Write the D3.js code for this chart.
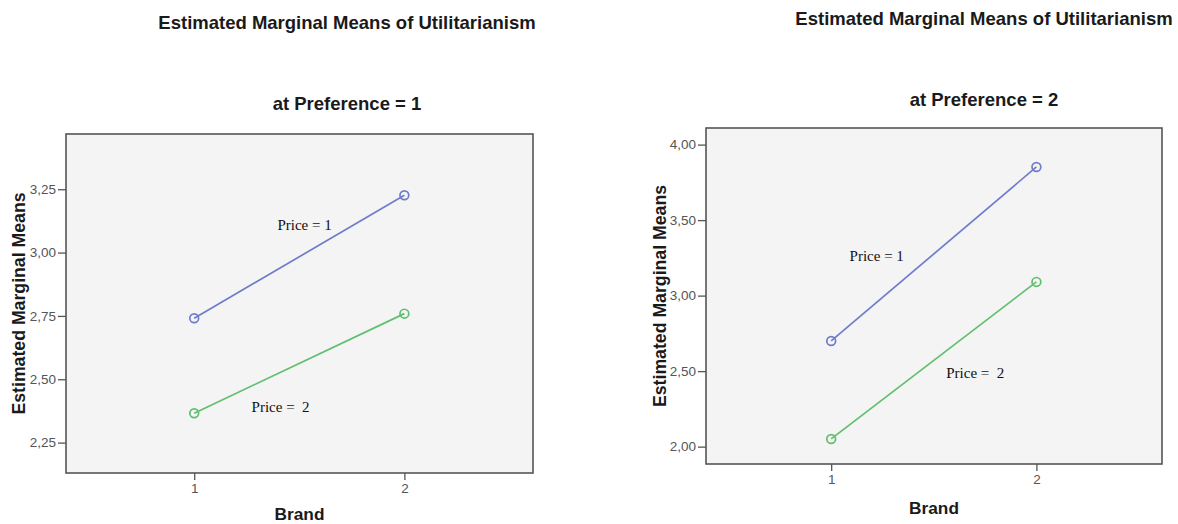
<!DOCTYPE html>
<html>
<head>
<meta charset="utf-8">
<script src="https://cdn.jsdelivr.net/npm/d3@7"></script>
<style>
  html, body { margin: 0; padding: 0; background: #fff; }
  svg { display: block; }
</style>
</head>
<body>
<div id="chart"></div>
<script>
// Estimated marginal means of Utilitarianism, Brand x Price, split by Preference
const brands = [1, 2];
const pref1Price1 = [2.741, 3.226];
const pref1Price2 = [2.366, 2.759];
const pref2Price1 = [2.700, 3.852];
const pref2Price2 = [2.051, 3.091];
const pref1Ticks = [2.25, 2.50, 2.75, 3.00, 3.25];
const pref2Ticks = [2.00, 2.50, 3.00, 3.50, 4.00];
const seriesNames = ['Price = 1', 'Price =  2'];
// where the in-plot labels sit, in data units [brand, mean]
const pref1LabelPos = [[1.525, 3.108], [1.411, 2.391]];
const pref2LabelPos = [[1.222, 3.267], [1.702, 2.487]];

const W = 1178, H = 524;
const COLORS = ['#6f7ccb', '#5fbf6d'];
const fmt = v => d3.format('.2f')(v).replace('.', ',');

const svg = d3.select('#chart').append('svg').attr('width', W).attr('height', H);
svg.append('rect').attr('width', W).attr('height', H).attr('fill', '#fff');

function drawPanel(p) {
  const x = d3.scaleLinear().domain([0.39, 2.612]).range([p.left, p.right]);
  const y = d3.scaleLinear().domain(p.yDomain).range([p.bottom, p.top]);
  const g = svg.append('g');

  // titles
  g.append('text').attr('x', p.titleX).attr('y', p.titleY)
    .attr('text-anchor', 'middle').style('font', "bold 18.5px 'Liberation Sans', Arial, sans-serif")
    .style('fill', '#1a1a1a').text('Estimated Marginal Means of Utilitarianism');
  g.append('text').attr('x', p.titleX).attr('y', p.subY)
    .attr('text-anchor', 'middle').style('font', "bold 18.5px 'Liberation Sans', Arial, sans-serif")
    .style('fill', '#1a1a1a').text(p.sub);

  // plot background
  g.append('rect').attr('x', p.left).attr('y', p.top)
    .attr('width', p.right - p.left).attr('height', p.bottom - p.top)
    .attr('fill', '#f4f4f4');

  // axes
  const ya = g.append('g').attr('transform', `translate(${p.left},0)`)
    .call(d3.axisLeft(y).tickValues(p.ticks).tickFormat(fmt).tickSize(8).tickPadding(2));
  const xa = g.append('g').attr('transform', `translate(0,${p.bottom})`)
    .call(d3.axisBottom(x).tickValues(brands).tickFormat(d3.format('d')).tickSize(7).tickPadding(3));
  [ya, xa].forEach(a => {
    a.select('.domain').remove();
    a.selectAll('line').attr('stroke', '#555').attr('stroke-width', 1.3);
    a.selectAll('text').style('font', "13.5px 'Liberation Sans', Arial, sans-serif").style('fill', '#555');
  });

  // frame
  g.append('rect').attr('x', p.left).attr('y', p.top)
    .attr('width', p.right - p.left).attr('height', p.bottom - p.top)
    .attr('fill', 'none').attr('stroke', '#555').attr('stroke-width', 1.6);

  // axis titles
  g.append('text').attr('x', (p.left + p.right) / 2).attr('y', p.bottom + p.brandGap).attr('dy', '0.35em')
    .attr('text-anchor', 'middle').style('font', "bold 17.3px 'Liberation Sans', Arial, sans-serif")
    .style('fill', '#1a1a1a').text('Brand');
  const cy = (p.top + p.bottom) / 2;
  g.append('text').attr('transform', `translate(${p.yLabelX},${cy}) rotate(-90)`)
    .attr('text-anchor', 'middle').attr('dy', '0.35em')
    .style('font', "bold 17.7px 'Liberation Sans', Arial, sans-serif")
    .style('fill', '#1a1a1a').text('Estimated Marginal Means');

  // lines + open circle markers
  const line = d3.line().x(d => x(d[0])).y(d => y(d[1]));
  p.series.forEach((vals, i) => {
    const pts = brands.map((b, j) => [b, vals[j]]);
    g.append('path').datum(pts).attr('d', line)
      .attr('fill', 'none').attr('stroke', COLORS[i]).attr('stroke-width', 1.7);
    g.selectAll(null).data(pts).enter().append('circle')
      .attr('cx', d => x(d[0])).attr('cy', d => y(d[1])).attr('r', 4.4)
      .attr('fill', 'none').attr('stroke', COLORS[i]).attr('stroke-width', 1.7);
  });

  // series labels
  p.labels.forEach((pos, i) => {
    g.append('text').attr('x', x(pos[0])).attr('y', y(pos[1])).attr('dy', '0.35em')
      .attr('text-anchor', 'middle').style('white-space', 'pre')
      .style('font', "15px 'Liberation Serif', 'Times New Roman', serif")
      .style('fill', '#111').text(seriesNames[i]);
  });
}

drawPanel({
  left: 66, right: 533, top: 134, bottom: 473,
  yDomain: [2.13, 3.468], ticks: pref1Ticks,
  series: [pref1Price1, pref1Price2], labels: pref1LabelPos,
  titleX: 347, titleY: 29, subY: 110, sub: 'at Preference = 1', yLabelX: 19, brandGap: 41
});
drawPanel({
  left: 706, right: 1162, top: 128, bottom: 464,
  yDomain: [1.885, 4.11], ticks: pref2Ticks,
  series: [pref2Price1, pref2Price2], labels: pref2LabelPos,
  titleX: 984, titleY: 25, subY: 106, sub: 'at Preference = 2', yLabelX: 660, brandGap: 44
});
</script>
</body>
</html>
